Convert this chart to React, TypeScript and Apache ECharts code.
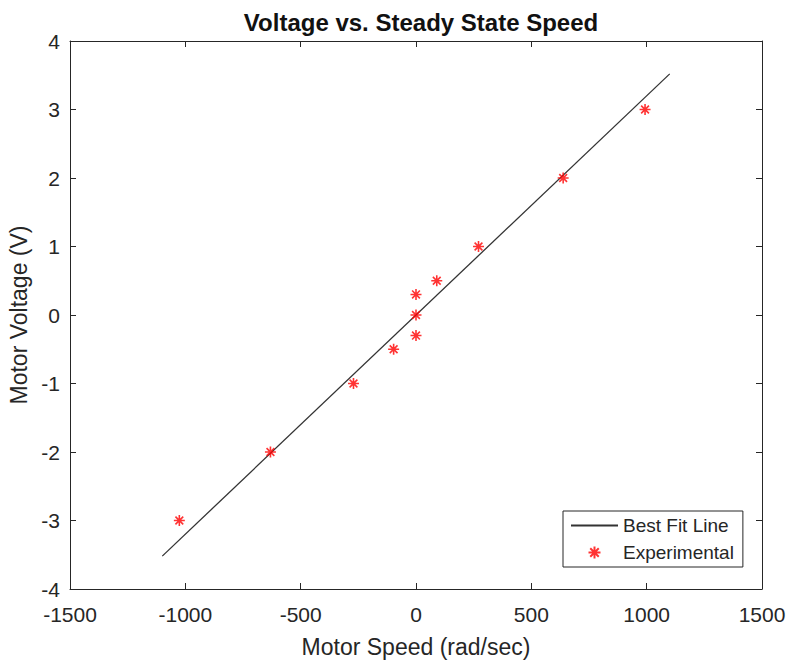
import React, { useEffect, useRef } from "react";
import * as echarts from "echarts";

const speed = [-1026, -631, -271, -97, 0, 0, 0, 90, 271, 638, 993];
const voltage = [-3, -2, -1, -0.5, -0.3, 0, 0.3, 0.5, 1, 2, 3];
const fitX = [-1100, 1100];
const fitY = [-3.52, 3.52];
const xTicks = [-1500, 1500, 500];
const yTicks = [-4, 4, 1];

const FONT = "'Liberation Sans', Arial, Helvetica, sans-serif";
const AX = "#262626";
const STAR =
  "path://M5 0 L5 10 M0 5 L10 5 M1.46 1.46 L8.54 8.54 M1.46 8.54 L8.54 1.46";

export default function App() {
  const ref = useRef<HTMLDivElement>(null);
  useEffect(() => {
    document.body.style.margin = "0";
    const chart = echarts.init(ref.current!, null, { renderer: "svg" });
    const axisCommon = {
      axisLine: { show: true, onZero: false, lineStyle: { color: AX, width: 1 } },
      axisTick: { show: true, inside: true, length: 6, lineStyle: { color: AX } },
      splitLine: { show: false },
    };
    const fmt = (v: number) => String(v);
    chart.setOption({
      animation: false,
      backgroundColor: "#fff",
      title: {
        text: "Voltage vs. Steady State Speed",
        left: 416,
        textAlign: "center",
        top: 5,
        textStyle: { fontFamily: FONT, fontSize: 24, fontWeight: "bold", color: "#111" },
      },
      grid: {
        left: 70,
        right: 24,
        top: 41,
        bottom: 71,
        containLabel: false,
        outerBoundsMode: "none",
      },
      legend: {
        orient: "vertical",
        left: 563,
        top: 511,
        padding: [5, 9, 5, 7],
        itemGap: 8,
        itemWidth: 47,
        itemHeight: 12,
        borderColor: AX,
        borderWidth: 1,
        backgroundColor: "#fff",
        textStyle: { fontFamily: FONT, fontSize: 19, color: AX },
        data: [
          { name: "Best Fit Line", itemStyle: { opacity: 0 } },
          { name: "Experimental" },
        ],
      },
      xAxis: [
        {
          type: "value",
          min: xTicks[0],
          max: xTicks[1],
          interval: xTicks[2],
          position: "bottom",
          name: "Motor Speed (rad/sec)",
          nameLocation: "middle",
          nameGap: 46,
          nameTextStyle: { fontFamily: FONT, fontSize: 23, color: AX },
          axisLabel: { margin: 15, fontFamily: FONT, fontSize: 21, color: AX, formatter: fmt },
          ...axisCommon,
        },
        {
          type: "value",
          min: xTicks[0],
          max: xTicks[1],
          interval: xTicks[2],
          position: "top",
          axisLabel: { show: false },
          ...axisCommon,
        },
      ],
      yAxis: [
        {
          type: "value",
          min: yTicks[0],
          max: yTicks[1],
          interval: yTicks[2],
          position: "left",
          name: "Motor Voltage (V)",
          nameLocation: "middle",
          nameGap: 38,
          nameTextStyle: { fontFamily: FONT, fontSize: 23, color: AX },
          axisLabel: { margin: 10, fontFamily: FONT, fontSize: 21, color: AX, formatter: fmt },
          ...axisCommon,
        },
        {
          type: "value",
          min: yTicks[0],
          max: yTicks[1],
          interval: yTicks[2],
          position: "right",
          axisLabel: { show: false },
          ...axisCommon,
        },
      ],
      series: [
        {
          name: "Best Fit Line",
          type: "line",
          data: fitX.map((x, i) => [x, fitY[i]]),
          showSymbol: false,
          symbol: "none",
          lineStyle: { color: "#333", width: 1.3 },
          itemStyle: { color: "#333" },
          z: 2,
        },
        {
          name: "Experimental",
          type: "scatter",
          data: speed.map((x, i) => [x, voltage[i]]),
          symbol: STAR,
          symbolSize: 11,
          symbolKeepAspect: true,
          itemStyle: { color: "#ff0000", borderColor: "#ff0000", borderWidth: 1.6 },
          z: 3,
        },
      ],
    });
    return () => chart.dispose();
  }, []);
  return <div ref={ref} style={{ width: 786, height: 660 }} />;
}
